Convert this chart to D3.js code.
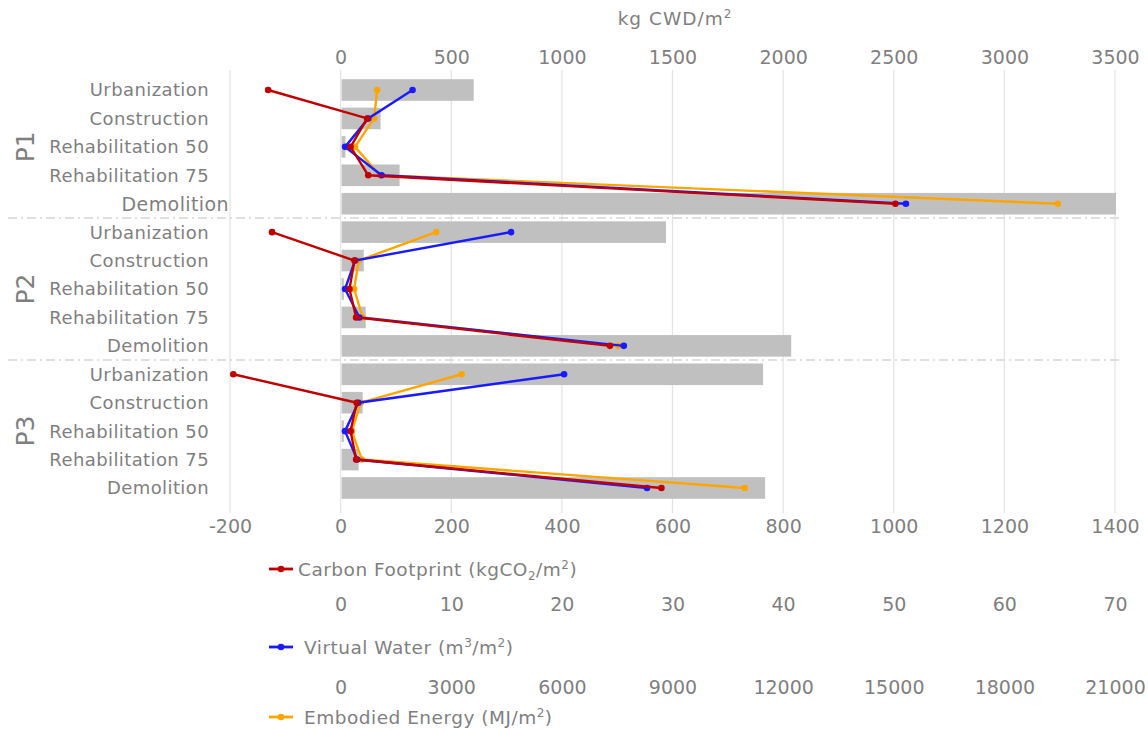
<!DOCTYPE html>
<html>
<head>
<meta charset="utf-8">
<script src="https://cdn.jsdelivr.net/npm/d3@7"></script>
<style>
  body { margin: 0; background: #fff; }
  text { font-family: "DejaVu Sans", Verdana, sans-serif; fill: #7f7f7f; }
</style>
</head>
<body>
<div id="chart"></div>
<script>
// stages per project, top to bottom
const stages = ["Urbanization", "Construction", "Rehabilitation 50", "Rehabilitation 75", "Demolition"];
const projects = ["P1", "P2", "P3"];

// gray bars, kg CWD/m2 (top axis)
const cwd = [
  [597, 176, 17, 262, 3500],
  [1466, 100, 10, 109, 2032],
  [1905, 95, 10, 77, 1914]
];
// kgCO2/m2
const carbon = [
  [-131, 48, 18, 50, 1003],
  [-124, 25, 16, 28, 487],
  [-194, 29, 18, 28, 580]
];
// m3/m2
const water = [
  [6.5, 2.5, 0.4, 3.7, 51.1],
  [15.4, 1.3, 0.4, 1.7, 25.6],
  [20.2, 1.6, 0.4, 1.5, 27.7]
];
// MJ/m2
const energy = [
  [990, 907, 390, 1065, 19450],
  [2590, 490, 367, 597, 7530],
  [3280, 544, 306, 576, 10960]
];

const cwdTicks = [0, 500, 1000, 1500, 2000, 2500, 3000, 3500];
const carbonTicks = [-200, 0, 200, 400, 600, 800, 1000, 1200, 1400];
const waterTicks = [0, 10, 20, 30, 40, 50, 60, 70];
const energyTicks = [0, 3000, 6000, 9000, 12000, 15000, 18000, 21000];

const width = 1148, height = 731;
const left = 230, right = 1115;

const svg = d3.select("#chart").append("svg")
  .attr("width", width).attr("height", height);

const xCarbon = d3.scaleLinear().domain([-200, 1400]).range([left, right]);
const xCwd = d3.scaleLinear().domain([-500, 3500]).range([left, right]);
const xWater = d3.scaleLinear().domain([-10, 70]).range([left, right]);
const xEnergy = d3.scaleLinear().domain([-3000, 21000]).range([left, right]);

// one band per (project, stage)
const rows = [];
projects.forEach((p, pi) => stages.forEach((s, si) => rows.push(pi + "-" + si)));
const y = d3.scaleBand().domain(rows).range([75.8, 502.2]).paddingInner(0.24).paddingOuter(0.12);
const yc = (pi, si) => y(pi + "-" + si) + y.bandwidth() / 2;

// grid
svg.append("g").selectAll("line").data(carbonTicks).join("line")
  .attr("x1", d => xCarbon(d)).attr("x2", d => xCarbon(d))
  .attr("y1", 70).attr("y2", 513)
  .attr("stroke", "#e3e3e3").attr("stroke-width", 1.2);

// bars
const barData = [];
projects.forEach((p, pi) => stages.forEach((s, si) => barData.push({pi, si, v: cwd[pi][si]})));
svg.append("g").selectAll("rect").data(barData).join("rect")
  .attr("x", xCwd(0) + 1)
  .attr("y", d => y(d.pi + "-" + d.si))
  .attr("width", d => xCwd(d.v) - xCwd(0))
  .attr("height", y.bandwidth())
  .attr("fill", "#c0c0c0");

// group separators
[1, 2].forEach(k => {
  const yy = (y(k + "-0") + y((k - 1) + "-4") + y.bandwidth()) / 2;
  svg.append("line")
    .attr("x1", 8).attr("x2", 1120).attr("y1", yy).attr("y2", yy)
    .attr("stroke", "#d6d6d6").attr("stroke-width", 1.5)
    .attr("stroke-dasharray", "9,4,2,4");
});

// stage labels
const labelData = barData.map(d => ({pi: d.pi, si: d.si, label: stages[d.si]}));
svg.append("g").selectAll("text").data(labelData).join("text")
  .attr("x", d => (d.pi === 0 && d.si === 4) ? 229 : 209)
  .attr("y", d => yc(d.pi, d.si))
  .attr("dy", "0.36em")
  .attr("text-anchor", "end")
  .style("font-size", d => (d.pi === 0 && d.si === 4) ? "19px" : "18px")
  .style("letter-spacing", "0.4px")
  .text(d => d.label);

// project labels
svg.append("g").selectAll("text").data(projects).join("text")
  .attr("transform", (d, i) => `translate(34,${yc(i, 2)}) rotate(-90)`)
  .attr("text-anchor", "middle")
  .style("font-size", "25px")
  .text(d => d);

// axes
function styleAxis(g) {
  g.select(".domain").remove();
  g.selectAll(".tick line").remove();
  g.selectAll(".tick text").style("font-size", "19px").attr("fill", "#7f7f7f")
    .style("font-family", "\"DejaVu Sans\", Verdana, sans-serif");
}
const plain = d => String(d);
svg.append("g").attr("transform", "translate(0,67)")
  .call(d3.axisTop(xCwd).tickValues(cwdTicks).tickFormat(plain).tickSize(0).tickPadding(3)).call(styleAxis);
svg.append("g").attr("transform", "translate(0,519)")
  .call(d3.axisBottom(xCarbon).tickValues(carbonTicks).tickFormat(plain).tickSize(0).tickPadding(0)).call(styleAxis);
svg.append("g").attr("transform", "translate(0,597)")
  .call(d3.axisBottom(xWater).tickValues(waterTicks).tickFormat(plain).tickSize(0).tickPadding(0)).call(styleAxis);
svg.append("g").attr("transform", "translate(0,680)")
  .call(d3.axisBottom(xEnergy).tickValues(energyTicks).tickFormat(plain).tickSize(0).tickPadding(0)).call(styleAxis);

// top axis title
const title = svg.append("text").attr("x", 675).attr("y", 25).attr("text-anchor", "middle")
  .style("font-size", "18.5px").style("letter-spacing", "1px");
title.append("tspan").text("kg CWD/m");
title.append("tspan").attr("dy", -7).style("font-size", "12px").text("2");

// series lines
const series = [
  {name: "energy", values: energy, x: xEnergy, color: "#ffa500"},
  {name: "water", values: water, x: xWater, color: "#1a1aff"},
  {name: "carbon", values: carbon, x: xCarbon, color: "#c00000"}
];
const line = d3.line().x(d => d[0]).y(d => d[1]);
series.forEach(s => {
  const g = svg.append("g");
  s.values.forEach((vals, pi) => {
    const pts = vals.map((v, si) => [s.x(v), yc(pi, si)]);
    g.append("path").attr("d", line(pts))
      .attr("fill", "none").attr("stroke", s.color).attr("stroke-width", 2.4);
    g.selectAll(null).data(pts).join("circle")
      .attr("cx", d => d[0]).attr("cy", d => d[1]).attr("r", 3.3)
      .attr("fill", s.color);
  });
});

// legends
function legend(yy, color, parts, tx) {
  svg.append("line").attr("x1", 269).attr("x2", 293).attr("y1", yy).attr("y2", yy)
    .attr("stroke", color).attr("stroke-width", 2.8);
  svg.append("circle").attr("cx", 281).attr("cy", yy).attr("r", 3.3).attr("fill", color);
  const t = svg.append("text").attr("x", tx).attr("y", yy).attr("dy", "0.36em")
    .style("font-size", "18.5px").style("letter-spacing", "0.5px");
  parts.forEach(p => {
    const sp = t.append("tspan").text(p.t);
    if (p.sup) sp.attr("dy", -7).style("font-size", "12px");
    if (p.sub) sp.attr("dy", 4).style("font-size", "12px");
    if (p.back) sp.attr("dy", p.back);
  });
}
legend(569, "#c00000", [
  {t: "Carbon Footprint (kgCO"}, {t: "2", sub: true}, {t: "/m", back: -4}, {t: "2", sup: true}, {t: ")", back: 7}
], 298);
legend(647, "#1a1aff", [
  {t: "Virtual Water (m"}, {t: "3", sup: true}, {t: "/m", back: 7}, {t: "2", sup: true}, {t: ")", back: 7}
], 304);
legend(717, "#ffa500", [
  {t: "Embodied Energy (MJ/m"}, {t: "2", sup: true}, {t: ")", back: 7}
], 304);
</script>
</body>
</html>
